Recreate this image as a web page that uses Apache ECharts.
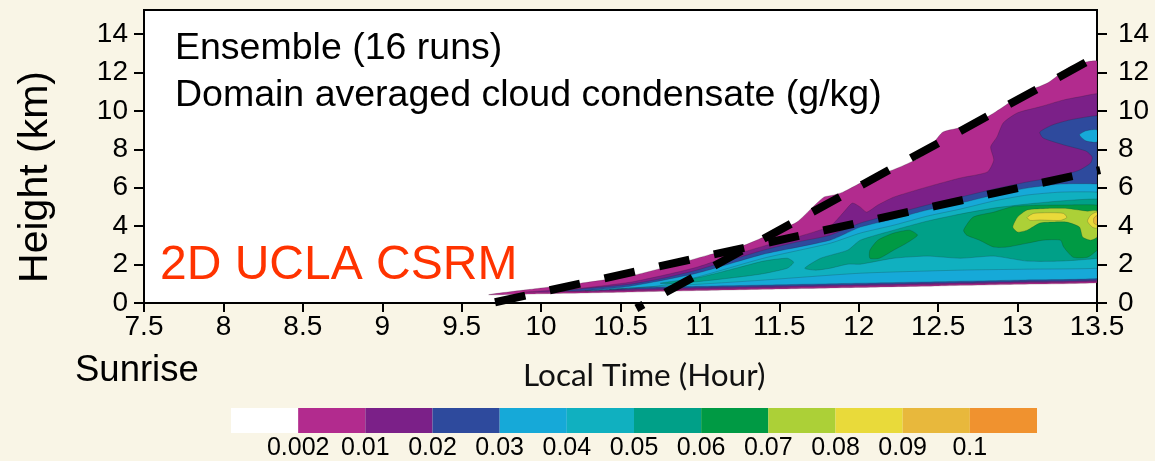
<!DOCTYPE html>
<html>
<head>
<meta charset="utf-8">
<script src="https://cdn.jsdelivr.net/npm/echarts@6/dist/echarts.min.js"></script>
<style>
  html, body { margin: 0; padding: 0; background: #f9f5e6; }
  #chart { width: 1155px; height: 461px; }
</style>
</head>
<body>
<div id="chart"></div>
<script>
// ---- axes ----
const timeMin = 7.5;
const timeMax = 13.5;
const heightTicks = [0, 2, 4, 6, 8, 10, 12, 14];

// ---- contour levels (g/kg) and their fill colours; index 0 is "below 0.002" ----
const levelLabels = ['0.002', '0.01', '0.02', '0.03', '0.04', '0.05', '0.06', '0.07', '0.08', '0.09', '0.1'];
const levelColors = ['#ffffff', '#b22b8e', '#7b2088', '#2e4a9d', '#16a9d8', '#10b0c0',
                     '#00a088', '#009a44', '#acd037', '#e9da3a', '#e8b83c', '#f0922f'];
const labelSlots = [1, 2, 3, 4, 5, 6, 7, 8, 9, 10, 11];

// ---- filled contour regions, [local time (h), height (km)] ----
const envelope002 = [[9.67,0.43],[9.93,0.71],[10.25,1.03],[10.58,1.44],[10.83,1.97],[11.05,2.49],[11.25,2.91],[11.46,3.64],[11.61,4.21],[11.71,4.99],[11.78,5.51],[11.84,5.62],[11.90,5.77],[12.01,6.24],[12.13,6.66],[12.26,7.08],[12.39,7.60],[12.47,8.33],[12.53,8.90],[12.66,9.17],[12.81,9.69],[12.91,10.21],[13.04,10.94],[13.19,11.46],[13.33,12.30],[13.44,12.56],[13.5,12.6],[13.5,12.4],[13.5,1.22],[13.5,1.05],[13.0,0.97],[12.5,0.89],[12.0,0.81],[11.5,0.73],[11.0,0.65],[10.5,0.56],[10.0,0.48]];
const layer001 = [[9.90,0.56],[10.25,0.77],[10.56,1.08],[10.77,1.44],[10.98,1.86],[11.19,2.44],[11.40,2.96],[11.61,3.43],[11.82,4.00],[11.90,4.68],[11.96,5.20],[12.01,4.99],[12.05,4.73],[12.12,5.10],[12.22,5.51],[12.43,6.04],[12.64,6.51],[12.81,6.82],[12.85,7.44],[12.83,8.12],[12.87,8.64],[12.91,9.38],[13.00,9.90],[13.14,10.21],[13.29,10.57],[13.39,10.73],[13.5,10.89],[13.5,10.7],[13.5,1.3],[13.5,1.12],[13.0,1.04],[12.5,0.96],[12.0,0.88],[11.5,0.80],[11.0,0.72],[10.5,0.63],[10.2,0.59]];
const layer002 = [[10.12,0.62],[10.56,0.98],[10.77,1.29],[10.98,1.71],[11.19,2.23],[11.40,2.75],[11.61,3.17],[11.82,3.53],[12.01,4.16],[12.22,4.63],[12.43,5.10],[12.64,5.51],[12.85,5.93],[13.06,6.30],[13.27,6.61],[13.39,6.92],[13.46,7.29],[13.47,7.60],[13.43,7.91],[13.29,8.23],[13.16,8.59],[13.14,8.90],[13.22,9.27],[13.33,9.53],[13.5,9.75],[13.5,9.55],[13.5,1.37],[13.5,1.19],[13.0,1.11],[12.5,1.03],[12.0,0.95],[11.5,0.87],[11.0,0.79],[10.6,0.72],[10.35,0.66]];
const layer003 = [[10.28,0.64],[10.56,0.87],[10.98,1.55],[11.40,2.54],[11.82,3.27],[12.01,3.95],[12.22,4.37],[12.43,4.84],[12.64,5.20],[12.85,5.62],[13.06,5.98],[13.27,6.19],[13.5,6.19],[13.5,6.0],[13.5,1.45],[13.5,1.27],[13.0,1.19],[12.5,1.11],[12.0,1.03],[11.5,0.95],[11.0,0.87],[10.7,0.82],[10.45,0.72]];
const spot003 = [[13.5,9.01],[13.43,8.96],[13.39,8.75],[13.43,8.44],[13.5,8.38]];
const layer004 = [[10.43,0.70],[10.75,0.90],[10.98,1.34],[11.40,2.33],[11.82,3.11],[12.01,3.64],[12.22,4.05],[12.43,4.52],[12.64,4.89],[12.85,5.31],[13.06,5.62],[13.27,5.77],[13.5,5.77],[13.5,5.6],[13.5,2.0],[13.5,1.81],[13.06,1.76],[12.64,1.71],[12.01,1.55],[11.38,1.18],[11.0,0.98],[10.72,0.86],[10.55,0.78]];
const layer005 = [[11.66,1.81],[11.76,2.33],[11.93,2.75],[12.01,3.27],[12.22,3.79],[12.43,4.26],[12.64,4.63],[12.85,4.94],[13.06,5.15],[13.27,5.31],[13.5,5.41],[13.5,5.2],[13.5,2.5],[13.5,2.33],[13.27,2.18],[13.06,2.18],[12.85,2.44],[12.64,2.33],[12.43,2.44],[12.22,2.33],[12.01,2.02],[11.93,2.02],[11.82,1.81],[11.73,1.71]];
const blob005 = [[10.75,1.03],[11.0,1.34],[11.25,1.86],[11.40,2.18],[11.55,2.33],[11.59,2.12],[11.55,1.81],[11.38,1.50],[11.13,1.24],[10.88,1.03]];
const blob006a = [[12.07,2.75],[12.12,3.27],[12.22,3.64],[12.32,3.79],[12.37,3.53],[12.30,3.11],[12.22,2.75],[12.13,2.33],[12.07,2.33]];
const blob006b = [[12.66,3.79],[12.72,4.47],[12.85,4.73],[12.97,5.02],[13.10,5.08],[13.27,5.10],[13.5,5.10],[13.5,4.9],[13.5,2.9],[13.5,2.75],[13.44,2.38],[13.35,2.38],[13.29,2.91],[13.27,3.27],[13.16,3.27],[13.06,3.11],[12.93,2.91],[12.85,2.91],[12.76,3.27],[12.68,3.53]];
const blob007 = [[12.97,3.95],[13.00,4.47],[13.06,4.84],[13.19,4.92],[13.31,4.92],[13.44,4.78],[13.5,4.78],[13.5,3.43],[13.46,3.27],[13.41,3.43],[13.39,3.95],[13.31,4.21],[13.22,4.21],[13.14,4.16],[13.06,3.79],[13.00,3.69]];
const blob008a = [[13.06,4.45],[13.10,4.66],[13.21,4.70],[13.29,4.66],[13.31,4.45],[13.27,4.30],[13.14,4.32],[13.08,4.30]];
const blob008b = [[13.5,4.73],[13.46,4.57],[13.44,4.26],[13.47,3.95],[13.5,3.90]];
const blob009 = [[13.5,4.55],[13.48,4.42],[13.48,4.16],[13.5,4.07]];

// ---- cloud-top growth lines ----
const growthLineA = [[9.71, 0.04], [13.52, 6.92]];
const growthLineB = [[10.60, -0.28], [13.46, 12.66]];

// painting order: lowest level first
const patches = [
  { level: 1, points: envelope002 },
  { level: 2, points: layer001 },
  { level: 3, points: layer002 },
  { level: 4, points: layer003 },
  { level: 4, points: spot003 },
  { level: 5, points: layer004 },
  { level: 6, points: layer005 },
  { level: 6, points: blob005 },
  { level: 7, points: blob006a },
  { level: 7, points: blob006b },
  { level: 8, points: blob007 },
  { level: 9, points: blob008a },
  { level: 9, points: blob008b },
  { level: 10, points: blob009 }
];

const fontFamily = '"Liberation Sans", Arial, Helvetica, sans-serif';
const axisLineStyle = { color: '#000', width: 2 };

const chart = echarts.init(document.getElementById('chart'), null, { renderer: 'canvas' });

const option = {
  backgroundColor: '#f9f5e6',
  animation: false,
  grid: [
    { left: 144, right: 58, top: 10, bottom: 158, show: true, backgroundColor: '#ffffff',
      borderColor: '#000', borderWidth: 2 },
    { left: 231, width: 806, top: 408, height: 26, show: false }
  ],
  xAxis: [
    {
      gridIndex: 0, type: 'value', min: timeMin, max: timeMax, interval: 0.5,
      axisLine: { show: true, onZero: false, lineStyle: axisLineStyle },
      axisTick: { show: true, length: 9, lineStyle: axisLineStyle },
      axisLabel: { color: '#000', fontSize: 28, fontFamily: fontFamily, margin: 10 },
      splitLine: { show: false }
    },
    {
      gridIndex: 1, type: 'value', min: 0, max: levelColors.length,
      axisLine: { show: false }, axisTick: { show: false }, splitLine: { show: false },
      axisLabel: {
        customValues: labelSlots,
        formatter: (v) => levelLabels[Math.round(v) - 1] || '',
        color: '#000', fontSize: 25, fontFamily: fontFamily, margin: 3
      }
    }
  ],
  yAxis: [
    {
      gridIndex: 0, type: 'value', min: 0, max: 15.25, position: 'left',
      axisLine: { show: true, lineStyle: axisLineStyle },
      axisTick: { show: true, length: 10, customValues: heightTicks, lineStyle: axisLineStyle },
      axisLabel: { customValues: heightTicks, color: '#000', fontSize: 28, fontFamily: fontFamily, margin: 16 },
      splitLine: { show: false }
    },
    {
      gridIndex: 0, type: 'value', min: 0, max: 15.25, position: 'right',
      axisLine: { show: true, lineStyle: axisLineStyle },
      axisTick: { show: true, length: 10, customValues: heightTicks, lineStyle: axisLineStyle },
      axisLabel: { customValues: heightTicks, color: '#000', fontSize: 28, fontFamily: fontFamily, margin: 21 },
      splitLine: { show: false }
    },
    { gridIndex: 1, type: 'value', min: 0, max: 1, show: false }
  ],
  series: [
    {
      name: 'condensate',
      type: 'custom',
      xAxisIndex: 0, yAxisIndex: 0,
      clip: true, silent: true,
      data: patches.map(p => p.points[0]),
      renderItem: (params, api) => {
        const patch = patches[params.dataIndex];
        return {
          type: 'polygon',
          shape: { points: patch.points.map(q => api.coord(q)), smooth: 0.2 },
          style: { fill: levelColors[patch.level], stroke: 'rgba(30,30,30,0.35)', lineWidth: 0.6 }
        };
      }
    },
    {
      name: 'colorbar',
      type: 'custom',
      xAxisIndex: 1, yAxisIndex: 2,
      silent: true,
      data: levelColors.map((c, i) => [i, 0]),
      renderItem: (params, api) => {
        const i = api.value(0);
        const a = api.coord([i, 1]);
        const b = api.coord([i + 1, 0]);
        return {
          type: 'rect',
          shape: { x: a[0], y: a[1], width: b[0] - a[0], height: b[1] - a[1] },
          style: { fill: levelColors[i] }
        };
      }
    },
    {
      name: 'growth A', type: 'line', xAxisIndex: 0, yAxisIndex: 0,
      data: growthLineA, symbol: 'none', clip: false, silent: true, z: 10,
      lineStyle: { color: '#000', width: 8, type: [31, 25], dashOffset: 0, cap: 'butt' }
    },
    {
      name: 'growth B', type: 'line', xAxisIndex: 0, yAxisIndex: 0,
      data: growthLineB, symbol: 'none', clip: false, silent: true, z: 10,
      lineStyle: { color: '#000', width: 8, type: [31, 25], dashOffset: 23, cap: 'butt' }
    }
  ],
  graphic: [
    { type: 'text', left: 175, top: 30, z: 20,
      style: { text: 'Ensemble (16 runs)', font: '37.5px ' + fontFamily, fill: '#000' } },
    { type: 'text', left: 175, top: 77, z: 20,
      style: { text: 'Domain averaged cloud condensate (g/kg)', font: '37.5px ' + fontFamily, fill: '#000' } },
    { type: 'text', left: 160, top: 242, z: 20,
      style: { text: '2D UCLA CSRM', font: '48px ' + fontFamily, fill: '#ff3300' } },
    { type: 'text', x: 36, y: 177, rotation: Math.PI / 2, z: 20,
      style: { text: 'Height (km)', font: '41px ' + fontFamily, fill: '#000', align: 'center', verticalAlign: 'middle' } },
    { type: 'text', left: 75, top: 352, z: 20,
      style: { text: 'Sunrise', font: '36.5px ' + fontFamily, fill: '#000' } },
    { type: 'text', left: 523, top: 360, z: 20,
      style: { text: 'Local Time (Hour)', font: '31.5px Lato, "Open Sans", sans-serif', fill: '#111' } }
  ]
};

chart.setOption(option);
</script>
</body>
</html>
